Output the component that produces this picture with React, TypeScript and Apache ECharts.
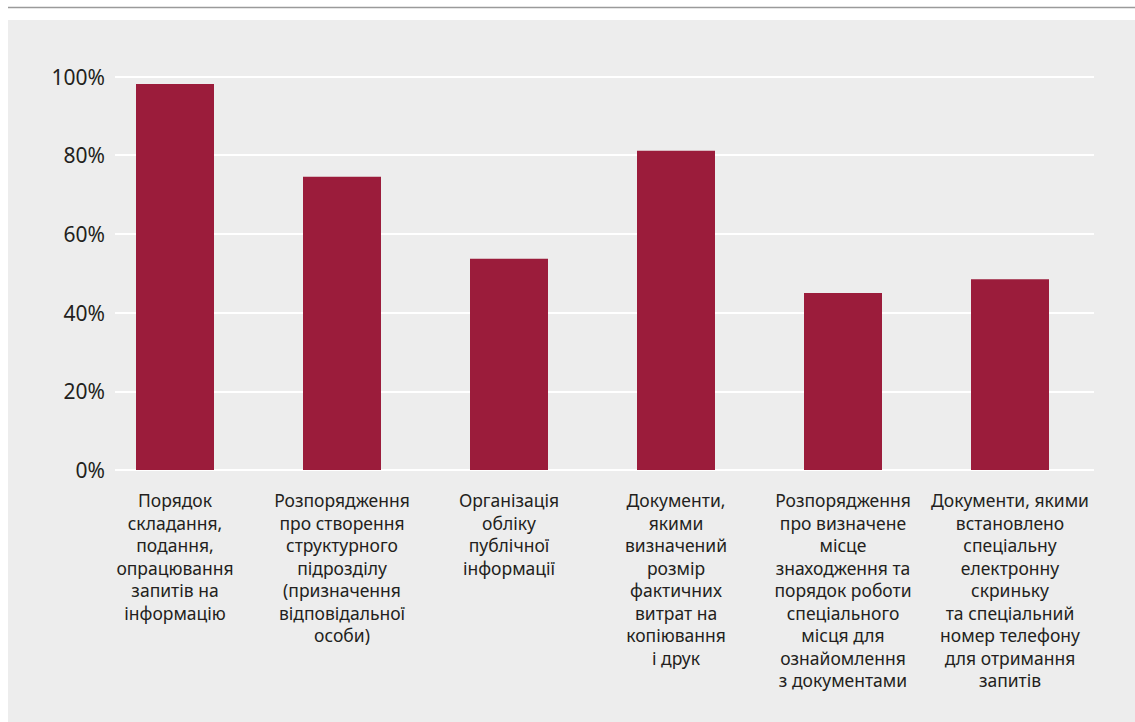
import React, { useEffect, useRef } from "react";
import * as echarts from "echarts";

const categories: string[] = [
  "Порядок\nскладання,\nподання,\nопрацювання\nзапитів на\nінформацію",
  "Розпорядження\nпро створення\nструктурного\nпідрозділу\n(призначення\nвідповідальної\nособи)",
  "Організація\nобліку\nпублічної\nінформації",
  "Документи,\nякими\nвизначений\nрозмір\nфактичних\nвитрат на\nкопіювання\nі друк",
  "Розпорядження\nпро визначене\nмісце\nзнаходження та\nпорядок роботи\nспеціального\nмісця для\nознайомлення\nз документами",
  "Документи, якими\nвстановлено\nспеціальну\nелектронну\nскриньку\nта спеціальний\nномер телефону\nдля отримання\nзапитів",
];

const values: number[] = [98.1, 74.5, 53.7, 81.1, 45.0, 48.5];

const yTicks = { min: 0, max: 100, interval: 20 };

const BAR_COLOR = "#9b1c3b";
const TEXT_COLOR = "#231f20";
const FONT = "'Noto Sans', 'Open Sans', sans-serif";

export default function App() {
  const ref = useRef<HTMLDivElement>(null);

  useEffect(() => {
    if (!ref.current) return;
    const chart = echarts.init(ref.current, null, { renderer: "svg" });
    chart.setOption({
      animation: false,
      backgroundColor: "#ffffff",
      textStyle: { fontFamily: FONT },
      graphic: [
        {
          type: "rect",
          z: -10,
          silent: true,
          shape: { x: 8, y: 20, width: 1127, height: 702 },
          style: { fill: "#ededed" },
        },
        {
          type: "line",
          z: -10,
          silent: true,
          shape: { x1: 8, y1: 7.5, x2: 1135, y2: 7.5 },
          style: { stroke: "#9a9a9a", lineWidth: 1.5 },
        },
      ],
      grid: [
        { left: 115, right: 41, top: 76.5, bottom: 252, containLabel: false },
        { left: 91.5, right: 41.5, top: 76.5, bottom: 252, containLabel: false },
      ],
      xAxis: [
        {
          type: "category",
          gridIndex: 0,
          data: categories,
          show: false,
        },
        {
          type: "category",
          gridIndex: 1,
          data: categories,
          axisLine: { show: false },
          axisTick: { show: false },
          axisLabel: {
            interval: 0,
            margin: 19,
            fontSize: 17.5,
            lineHeight: 22.5,
            color: TEXT_COLOR,
            fontFamily: FONT,
            align: "center",
          },
        },
      ],
      yAxis: [
        {
          type: "value",
          gridIndex: 0,
          min: yTicks.min,
          max: yTicks.max,
          interval: yTicks.interval,
          axisLine: { show: false },
          axisTick: { show: false },
          axisLabel: {
            formatter: "{value}%",
            fontSize: 21,
            color: TEXT_COLOR,
            margin: 10,
            fontFamily: FONT,
          },
          splitLine: { show: true, lineStyle: { color: "#ffffff", width: 2 } },
        },
        {
          type: "value",
          gridIndex: 1,
          min: yTicks.min,
          max: yTicks.max,
          interval: yTicks.interval,
          show: false,
          splitLine: { show: false },
        },
      ],
      series: [
        {
          type: "bar",
          xAxisIndex: 1,
          yAxisIndex: 1,
          data: values,
          barWidth: 78,
          itemStyle: { color: BAR_COLOR },
          z: 3,
        },
      ],
    });
    return () => chart.dispose();
  }, []);

  return (
    <div
      ref={ref}
      style={{ position: "fixed", left: 0, top: 0, width: 1135, height: 722 }}
    />
  );
}
